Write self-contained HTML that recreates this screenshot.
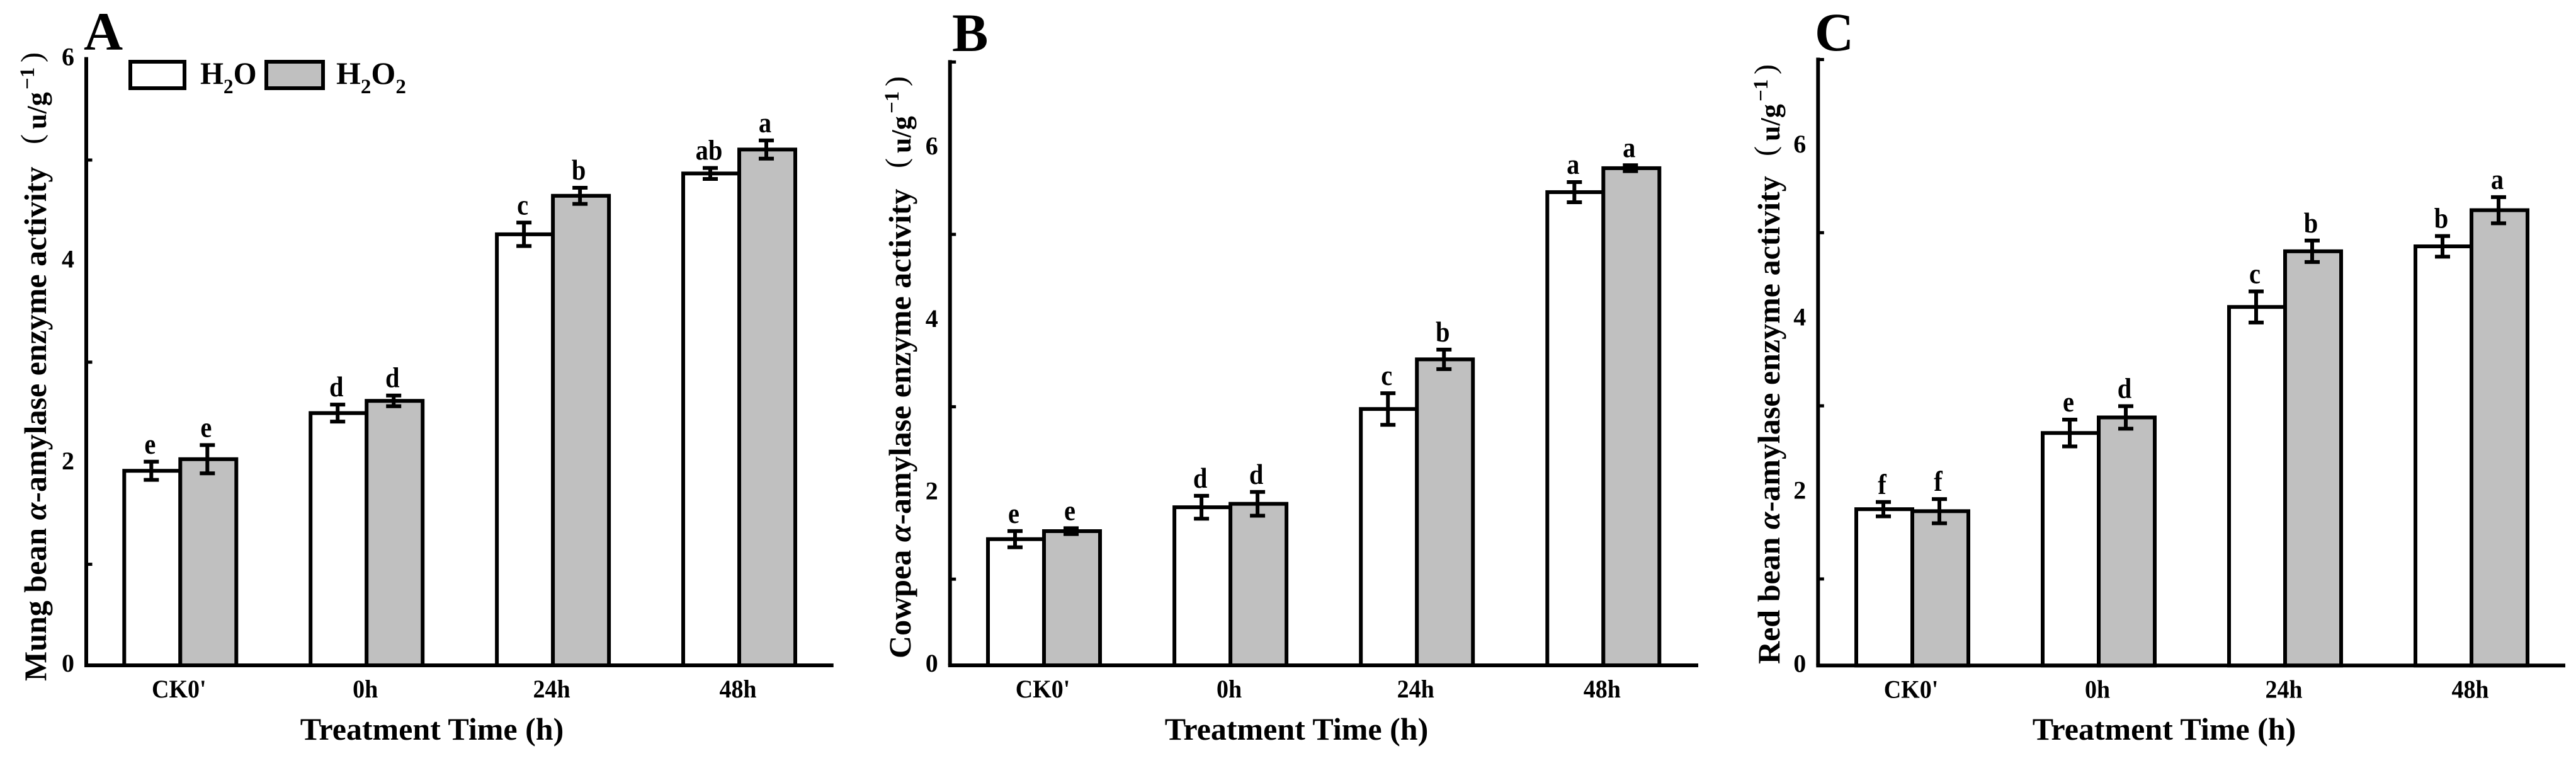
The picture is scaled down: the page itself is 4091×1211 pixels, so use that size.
<!DOCTYPE html>
<html lang="en">
<head>
<meta charset="utf-8">
<title>Alpha-amylase enzyme activity under H2O and H2O2 treatment</title>
<style>
html,body{margin:0;padding:0;background:#fff;width:4091px;height:1211px;overflow:hidden}
svg{display:block}
text{font-family:"Liberation Serif","Noto Serif CJK SC",serif;font-weight:bold;fill:#000}
.panel{font-size:86px}
.axis-title{font-size:50px}
.unit{font-size:44px}
.sup{font-size:33px}
.paren{font-size:48px;font-weight:normal}
.legend{font-size:50px}
.sub{font-size:33px}
</style>
</head>
<body>
<svg id="fig" xmlns="http://www.w3.org/2000/svg" width="4091" height="1211" viewBox="0 0 4091 1211">
  <rect x="0" y="0" width="4091" height="1211" fill="#fff"/>

  <text class="panel" x="133" y="79">A</text>
  <text class="panel" x="1512" y="81">B</text>
  <text class="panel" x="2882" y="80">C</text>

  <g id="plot-a"></g>
  <g id="plot-b"></g>
  <g id="plot-c"></g>

  <text class="axis-title" x="686" y="1174" text-anchor="middle">Treatment Time (h)</text>
  <text class="axis-title" x="2059" y="1174" text-anchor="middle">Treatment Time (h)</text>
  <text class="axis-title" x="3437" y="1174" text-anchor="middle">Treatment Time (h)</text>

  <text class="axis-title" transform="translate(73,1081) rotate(-90)">Mung bean <tspan font-style="italic">α</tspan>-amylase enzyme activity</text>
  <g transform="translate(73,232) rotate(-90)">
    <text class="paren" x="3" y="-7">(</text>
    <text class="unit" x="27" y="0">u/g</text>
    <text class="sup" x="90" y="-19">−1</text>
    <text class="paren" x="133" y="-7">)</text>
  </g>

  <text class="axis-title" transform="translate(1446,1045) rotate(-90)">Cowpea <tspan font-style="italic">α</tspan>-amylase enzyme activity</text>
  <g transform="translate(1446,270) rotate(-90)">
    <text class="paren" x="3" y="-7">(</text>
    <text class="unit" x="27" y="0">u/g</text>
    <text class="sup" x="90" y="-19">−1</text>
    <text class="paren" x="133" y="-7">)</text>
  </g>

  <text class="axis-title" transform="translate(2826,1054) rotate(-90)">Red bean <tspan font-style="italic">α</tspan>-amylase enzyme activity</text>
  <g transform="translate(2826,251) rotate(-90)">
    <text class="paren" x="3" y="-7">(</text>
    <text class="unit" x="27" y="0">u/g</text>
    <text class="sup" x="90" y="-19">−1</text>
    <text class="paren" x="133" y="-7">)</text>
  </g>

  <g>
    <rect x="207" y="98" width="86" height="42" fill="#fff" stroke="#000" stroke-width="6"/>
    <text class="legend" transform="translate(318,133) scale(.95,1)">H<tspan class="sub" dy="15">2</tspan><tspan dy="-15">O</tspan></text>
    <rect x="423" y="98" width="90" height="42" fill="#c0c0c0" stroke="#000" stroke-width="6"/>
    <text class="legend" x="534" y="133">H<tspan class="sub" dy="15">2</tspan><tspan dy="-15">O</tspan><tspan class="sub" dy="15">2</tspan></text>
  </g>
</svg>

<script>
const categories = ["CK0'", "0h", "24h", "48h"];
const seriesNames = ["h2o", "h2o2"];

const yTickLabels = [0, 2, 4, 6];
const minorTicksA = [1, 3, 5];
const minorTicksB = [1, 3, 5, 7];
const minorTicksC = [1, 3, 5, 7];

const mungWater = [1.925, 2.496, 4.265, 4.867];
const mungPeroxide = [2.04, 2.617, 4.646, 5.104];
const mungWaterErr = [0.09, 0.084, 0.116, 0.054];
const mungPeroxideErr = [0.14, 0.053, 0.08, 0.09];
const mungWaterLetters = ["e", "d", "c", "ab"];
const mungPeroxideLetters = ["e", "d", "b", "a"];

const cowpeaWater = [1.464, 1.834, 2.974, 5.49];
const cowpeaPeroxide = [1.557, 1.874, 3.55, 5.768];
const cowpeaWaterErr = [0.094, 0.133, 0.183, 0.117];
const cowpeaPeroxideErr = [0.034, 0.138, 0.113, 0.034];
const cowpeaWaterLetters = ["e", "d", "c", "a"];
const cowpeaPeroxideLetters = ["e", "d", "b", "a"];

const redWater = [1.806, 2.686, 4.142, 4.842];
const redPeroxide = [1.783, 2.866, 4.785, 5.26];
const redWaterErr = [0.083, 0.155, 0.18, 0.119];
const redPeroxideErr = [0.14, 0.13, 0.124, 0.151];
const redWaterLetters = ["f", "e", "c", "b"];
const redPeroxideLetters = ["f", "d", "b", "a"];

const panels = [
  {id: "a", axisX: 137, axisEnd: 1323.7, y0: 1056, unit: 160.4, yMax: 6, barLeft: 197.3, groupStep: 295.9, barW: 89,
   minor: minorTicksA, water: mungWater, peroxide: mungPeroxide, waterErr: mungWaterErr, peroxideErr: mungPeroxideErr, waterLetters: mungWaterLetters, peroxideLetters: mungPeroxideLetters},
  {id: "b", axisX: 1508.7, axisEnd: 2697, y0: 1056, unit: 136.8, yMax: 7, barLeft: 1569, groupStep: 296.1, barW: 89,
   minor: minorTicksB, water: cowpeaWater, peroxide: cowpeaPeroxide, waterErr: cowpeaWaterErr, peroxideErr: cowpeaPeroxideErr, waterLetters: cowpeaWaterLetters, peroxideLetters: cowpeaPeroxideLetters},
  {id: "c", axisX: 2887.3, axisEnd: 4074, y0: 1056.3, unit: 137.4, yMax: 7, barLeft: 2948, groupStep: 296, barW: 89,
   minor: minorTicksC, water: redWater, peroxide: redPeroxide, waterErr: redWaterErr, peroxideErr: redPeroxideErr, waterLetters: redWaterLetters, peroxideLetters: redPeroxideLetters}
];

const SVG_NS = "http://www.w3.org/2000/svg";

function make(parent, tag, attrs) {
  const node = document.createElementNS(SVG_NS, tag);
  for (const k in attrs) node.setAttribute(k, attrs[k]);
  parent.appendChild(node);
  return node;
}
function yScale(p, v) { return p.y0 - v * p.unit; }
function xScale(p, group, series) { return p.barLeft + group * p.groupStep + series * p.barW; }

function drawPanel(p) {
  const root = document.getElementById("plot-" + p.id);

  p.minor.forEach(function (v) {
    const el = make(root, "line", {x1: p.axisX, x2: p.axisX + 9.5, y1: yScale(p, v), y2: yScale(p, v), stroke: "#000", "stroke-width": 5});
    
    
  });

  yTickLabels.forEach(function (v) {
    const el = make(root, "text", {x: p.axisX - 19, y: yScale(p, v) + 10, "text-anchor": "end", "font-size": 40});
    el.textContent = v;
    
    
  });

  categories.forEach(function (cat, g) {
    const cx = xScale(p, g, 1) - 2;
    const el = make(root, "text", {transform: "translate(" + cx + "," + (p.y0 + 51) + ") scale(.95,1)", "text-anchor": "middle", "font-size": 40});
    el.textContent = cat;
    
    
  });

  seriesNames.forEach(function (name, s) {
    const values = s === 0 ? p.water : p.peroxide;
    categories.forEach(function (cat, g) {
      const left = xScale(p, g, s);
      const top = yScale(p, values[g]);
      const el = make(root, "rect", {x: left, y: top, width: p.barW, height: p.y0 - top, fill: s === 0 ? "#fff" : "#c0c0c0", stroke: "#000", "stroke-width": 6});
      
      
    });
  });

  seriesNames.forEach(function (name, s) {
    const values = s === 0 ? p.water : p.peroxide;
    const errs = s === 0 ? p.waterErr : p.peroxideErr;
    const letters = s === 0 ? p.waterLetters : p.peroxideLetters;
    categories.forEach(function (cat, g) {
      const cx = xScale(p, g, s) + p.barW / 2 - 1.5;
      const hi = yScale(p, values[g] + errs[g]);
      const lo = yScale(p, values[g] - errs[g]);

      const stem = make(root, "line", {x1: cx, x2: cx, y1: hi, y2: lo, stroke: "#000", "stroke-width": 6});
      
      

      const capTop = make(root, "line", {x1: cx - 12, x2: cx + 12, y1: hi, y2: hi, stroke: "#000", "stroke-width": 6});
      
      

      const capLow = make(root, "line", {x1: cx - 12, x2: cx + 12, y1: lo, y2: lo, stroke: "#000", "stroke-width": 6});
      
      

      const tag = make(root, "text", {transform: "translate(" + (cx - 2) + "," + (hi - 13) + ") scale(.88,1)", "text-anchor": "middle", "font-size": 46});
      tag.textContent = letters[g];
      
      
    });
  });

  const yAxis = make(root, "line", {x1: p.axisX, x2: p.axisX, y1: yScale(p, p.yMax) - 3, y2: p.y0, stroke: "#000", "stroke-width": 6});
  
  

  const xAxis = make(root, "line", {x1: p.axisX - 3, x2: p.axisEnd, y1: p.y0, y2: p.y0, stroke: "#000", "stroke-width": 6});
  
  
}

panels.forEach(drawPanel);
</script>
</body>
</html>
